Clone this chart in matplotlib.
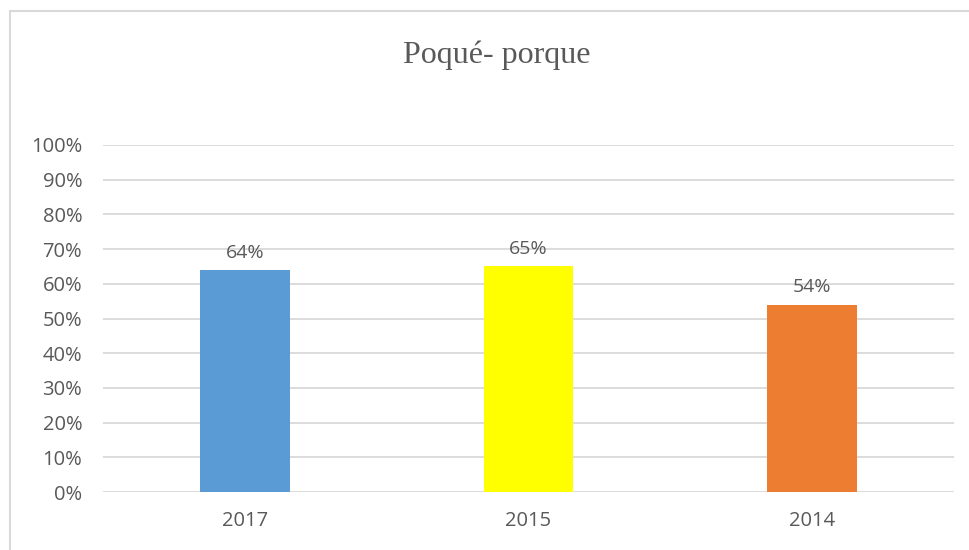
import matplotlib.pyplot as plt
from matplotlib.patches import Rectangle
from matplotlib.ticker import PercentFormatter

# Data
years = ["2017", "2015", "2014"]
values = [64, 65, 54]
colors = ["#5B9BD5", "#FFFF00", "#ED7D31"]

text_color = "#595959"
grid_color = "#D9D9D9"

fig = plt.figure(figsize=(9.7, 5.5), dpi=100)
ax = fig.add_axes([103 / 970, 1 - 492 / 550, 851 / 970, 347 / 550])

# Chart border (cropped on right and bottom)
fig.patches.append(Rectangle((10 / 970, -0.1), 1.2, 1 - 11 / 550 + 0.1,
                             transform=fig.transFigure, fill=False,
                             edgecolor=grid_color, linewidth=1.5))

x = range(len(years))
bars = ax.bar(x, values, width=0.315, color=colors, zorder=3)

for b, v in zip(bars, values):
    ax.annotate(f"{v}%", (b.get_x() + b.get_width() / 2, v),
                xytext=(0, 6), textcoords="offset points",
                ha="center", va="bottom", fontsize=14,
                color=text_color, family="Open Sans")

ax.set_xlim(-0.5, 2.5)
ax.set_ylim(0, 100)
ax.set_yticks(range(0, 101, 10))
ax.yaxis.set_major_formatter(PercentFormatter(decimals=0))
ax.set_xticks(list(x))
ax.set_xticklabels(years)

ax.grid(axis="y", color=grid_color, linewidth=1.3, zorder=0)
for s in ax.spines.values():
    s.set_visible(False)
ax.tick_params(length=0, labelsize=14.5, labelcolor=text_color)
ax.tick_params(axis="y", pad=15)
ax.tick_params(axis="x", pad=14)
for lab in ax.get_xticklabels() + ax.get_yticklabels():
    lab.set_family("Open Sans")

fig.text(497 / 970, 1 - 55 / 550, "Poqué- porque", ha="center", va="center",
         fontsize=23, color=text_color, family="Liberation Serif")

fig.savefig("out.png")
